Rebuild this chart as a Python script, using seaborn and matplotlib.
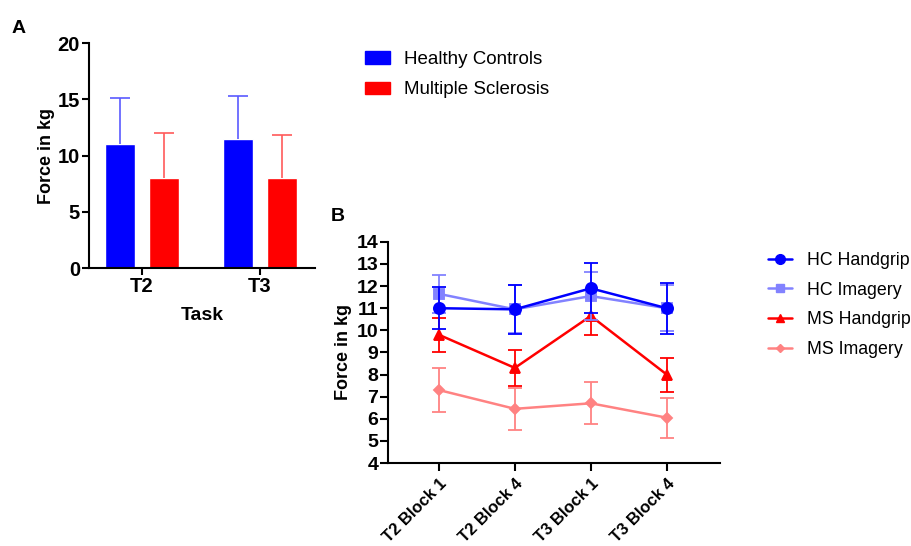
import numpy as np
import pandas as pd
import seaborn as sns
import matplotlib.pyplot as plt
from matplotlib.lines import Line2D
from matplotlib.patches import Patch

# panel A data
tasks = ["T2", "T3"]
groups = ["Healthy Controls", "Multiple Sclerosis"]
hc_mean = [11.0, 11.45]
hc_sd = [4.1, 3.85]
ms_mean = [8.05, 8.0]
ms_sd = [3.95, 3.85]

# panel B data
blocks = ["T2 Block 1", "T2 Block 4", "T3 Block 1", "T3 Block 4"]
series = ["HC Handgrip", "HC Imagery", "MS Handgrip", "MS Imagery"]
hc_hand = [11.0, 10.95, 11.9, 11.0]
hc_hand_err = [0.95, 1.12, 1.13, 1.15]
hc_img = [11.65, 10.95, 11.55, 11.0]
hc_img_err = [0.85, 1.08, 1.1, 1.03]
ms_hand = [9.8, 8.3, 10.65, 8.0]
ms_hand_err = [0.78, 0.8, 0.85, 0.77]
ms_img = [7.3, 6.45, 6.7, 6.05]
ms_img_err = [0.98, 0.95, 0.95, 0.9]

sns.set_style("white")
plt.rcParams['font.family'] = ['Liberation Sans', 'DejaVu Sans']
plt.rcParams.update({"text.color": "black", "axes.labelcolor": "black",
                     "xtick.color": "black", "ytick.color": "black"})

fig = plt.figure(figsize=(9.12, 5.46), dpi=100)

# ---- A: bars
axA = fig.add_axes([0.0976, 0.509, 0.2478, 0.412])
dfA = pd.DataFrame({
    "task": tasks * 2,
    "group": [groups[0]] * 2 + [groups[1]] * 2,
    "force": hc_mean + ms_mean,
})
sns.barplot(data=dfA, x="task", y="force", hue="group", palette=["#0000ff", "#ff0000"],
            saturation=1, width=0.76, gap=0.33, errorbar=None, legend=False, ax=axA)
errsA = hc_sd + ms_sd
err_cols = ["#5a5aff"] * 2 + ["#ff5a5a"] * 2
for p, e, c in zip(axA.patches, errsA, err_cols):
    xc = p.get_x() + p.get_width() / 2
    top = p.get_height() + e
    axA.vlines(xc, p.get_height(), top, color=c, lw=1.2, zorder=1)
    axA.hlines(top, xc - 0.085, xc + 0.085, color=c, lw=1.2, zorder=1)

axA.set_xlim(-0.449, 1.466)
axA.set_ylim(0, 20)
axA.set_yticks([0, 5, 10, 15, 20])
axA.set_xlabel("Task", fontsize=14, fontweight="bold", labelpad=8)
axA.set_ylabel("Force in kg", fontsize=13, fontweight="bold", labelpad=2)
sns.despine(ax=axA)
for s in ["left", "bottom"]:
    axA.spines[s].set_linewidth(1.5)
    axA.spines[s].set_color("black")
axA.tick_params(axis="both", length=5, width=1.5, labelsize=14.5, direction="out",
                left=True, bottom=True, pad=1.5)
for t in axA.get_xticklabels() + axA.get_yticklabels():
    t.set_fontweight("bold")
fig.legend(handles=[Patch(color="#0000ff", label=groups[0]), Patch(color="#ff0000", label=groups[1])],
           loc="upper left", bbox_to_anchor=(0.382, 0.937), frameon=False, fontsize=13.5,
           handlelength=1.3, handleheight=0.65, labelspacing=0.7, handletextpad=0.75)
fig.text(0.013, 0.94, "A", fontsize=14, fontweight="bold")

# ---- B: lines
axB = fig.add_axes([0.4254, 0.152, 0.3640, 0.405])
cols = ["#0000ff", "#8282ff", "#ff0000", "#ff8282"]
marks = ["o", "s", "^", "D"]
msz = [8, 7, 7, 5]
means = [hc_hand, hc_img, ms_hand, ms_img]
errs = [hc_hand_err, hc_img_err, ms_hand_err, ms_img_err]
dfB = pd.DataFrame({
    "block": blocks * 4,
    "series": np.repeat(series, 4),
    "force": np.concatenate(means),
})
order_draw = [3, 2, 1, 0]
for i in order_draw:
    sub = dfB[dfB.series == series[i]]
    sns.pointplot(data=sub, x="block", y="force", order=blocks, color=cols[i], marker=marks[i],
                  markersize=msz[i], linewidth=1.8, errorbar=None, ax=axB)
    axB.errorbar(np.arange(4), means[i], yerr=errs[i], fmt="none", ecolor=cols[i],
                 capsize=5, elinewidth=1.3, capthick=1.3)

axB.set_xlim(-0.67, 3.70)
axB.set_ylim(4, 14)
axB.set_yticks(range(4, 15))
axB.set_xlabel("")
axB.set_ylabel("Force in kg", fontsize=13, fontweight="bold", labelpad=3)
sns.despine(ax=axB)
for s in ["left", "bottom"]:
    axB.spines[s].set_linewidth(1.5)
    axB.spines[s].set_color("black")
axB.tick_params(axis="y", length=6, width=1.5, labelsize=14, direction="out", left=True, pad=1)
axB.tick_params(axis="x", length=6, width=1.5, labelsize=12, direction="out", bottom=True, pad=3)
axB.set_xticks(range(4))
axB.set_xticklabels(blocks, rotation=45, ha="right", rotation_mode="anchor")
for t in axB.get_xticklabels() + axB.get_yticklabels():
    t.set_fontweight("bold")
handles = [Line2D([], [], color=cols[i], marker=marks[i], markersize=msz[i] - 1, lw=1.8, label=series[i])
           for i in range(4)]
fig.legend(handles=handles, loc="upper left", bbox_to_anchor=(0.825, 0.568), frameon=False,
           fontsize=12.8, handlelength=1.35, labelspacing=0.72, handletextpad=0.8)
fig.text(0.363, 0.595, "B", fontsize=14, fontweight="bold")

fig.savefig("out.png", dpi=100)
